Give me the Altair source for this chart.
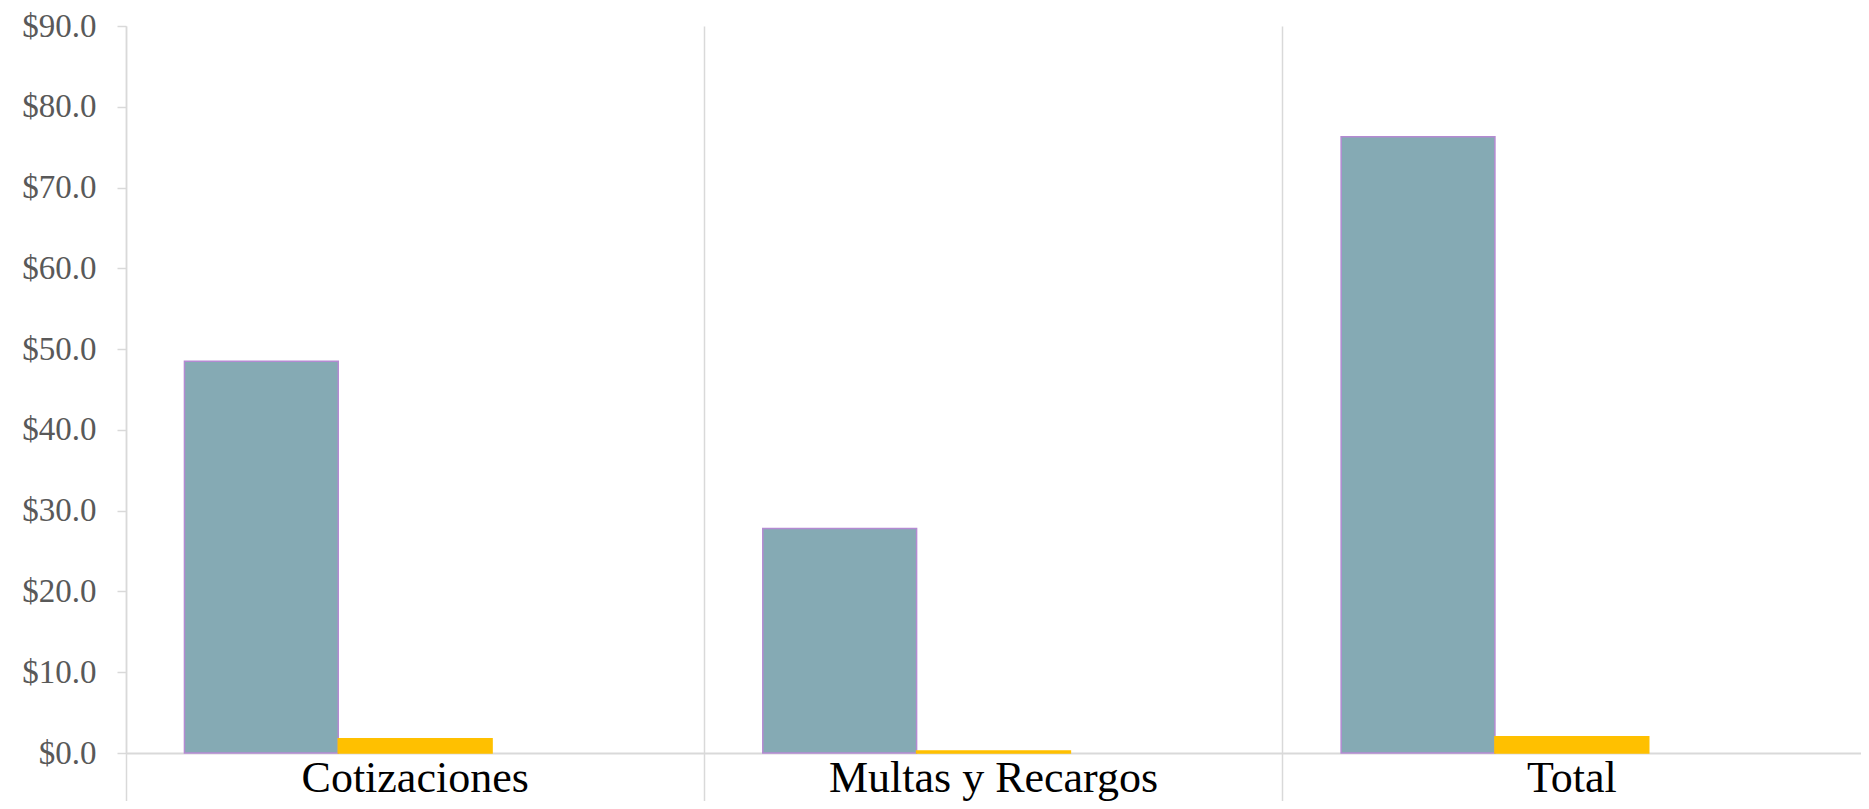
import altair as alt
import pandas as pd

categories = ["Cotizaciones", "Multas y Recargos", "Total"]
series = ["Serie 1", "Serie 2", "Serie 3"]
serie1 = [48.5, 27.8, 76.3]
serie2 = [1.75, 0.25, 2.0]
y_ticks = [0, 10, 20, 30, 40, 50, 60, 70, 80, 90]

rows = []
for c, v in zip(categories, serie1):
    rows.append({"categoria": c, "serie": series[0], "valor": v})
for c, v in zip(categories, serie2):
    rows.append({"categoria": c, "serie": series[1], "valor": v})
df = pd.DataFrame(rows)

GRID = "#D9D9D9"
FONT = "Liberation Serif"

chart = alt.Chart(df).mark_bar(strokeWidth=1.5).encode(
    x=alt.X(
        "categoria:N",
        sort=categories,
        scale=alt.Scale(paddingInner=0, paddingOuter=0),
        axis=alt.Axis(
            title=None, labelAngle=0, bandPosition=0,
            grid=True, gridColor=GRID, gridWidth=1.5,
            ticks=True, tickSize=48, tickColor=GRID, tickWidth=1.5,
            domainColor=GRID, domainWidth=2,
            labelFont=FONT, labelFontSize=44, labelColor="#000000",
            labelPadding=-45, labelBaseline="top", labelLimit=0,
            labelOverlap=False,
        ),
    ),
    xOffset=alt.XOffset(
        "serie:N",
        scale=alt.Scale(domain=series, paddingInner=0, paddingOuter=0.38),
    ),
    y=alt.Y(
        "valor:Q",
        scale=alt.Scale(domain=[0, 90], nice=False),
        axis=alt.Axis(
            title=None, values=y_ticks, format="$,.1f", grid=False,
            tickSize=9, tickColor=GRID, tickWidth=1.5,
            domainColor=GRID, domainWidth=1.5,
            labelFont=FONT, labelFontSize=33, labelColor="#595959",
            labelPadding=21,
        ),
    ),
    color=alt.Color(
        "serie:N",
        scale=alt.Scale(domain=series, range=["#85AAB4", "#FFC000", "#A5A5A5"]),
        legend=None,
    ),
    stroke=alt.Stroke(
        "serie:N",
        scale=alt.Scale(domain=series, range=["#B48AD2", "#FFC000", "#A5A5A5"]),
        legend=None,
    ),
).properties(
    width=1735,
    height=727,
    autosize=alt.AutoSizeParams(type="none"),
    padding={"left": 118, "top": 18, "right": 0, "bottom": 48},
).configure_view(stroke=None)

chart.save("out.html", embed_options={"renderer": "svg", "actions": False})
